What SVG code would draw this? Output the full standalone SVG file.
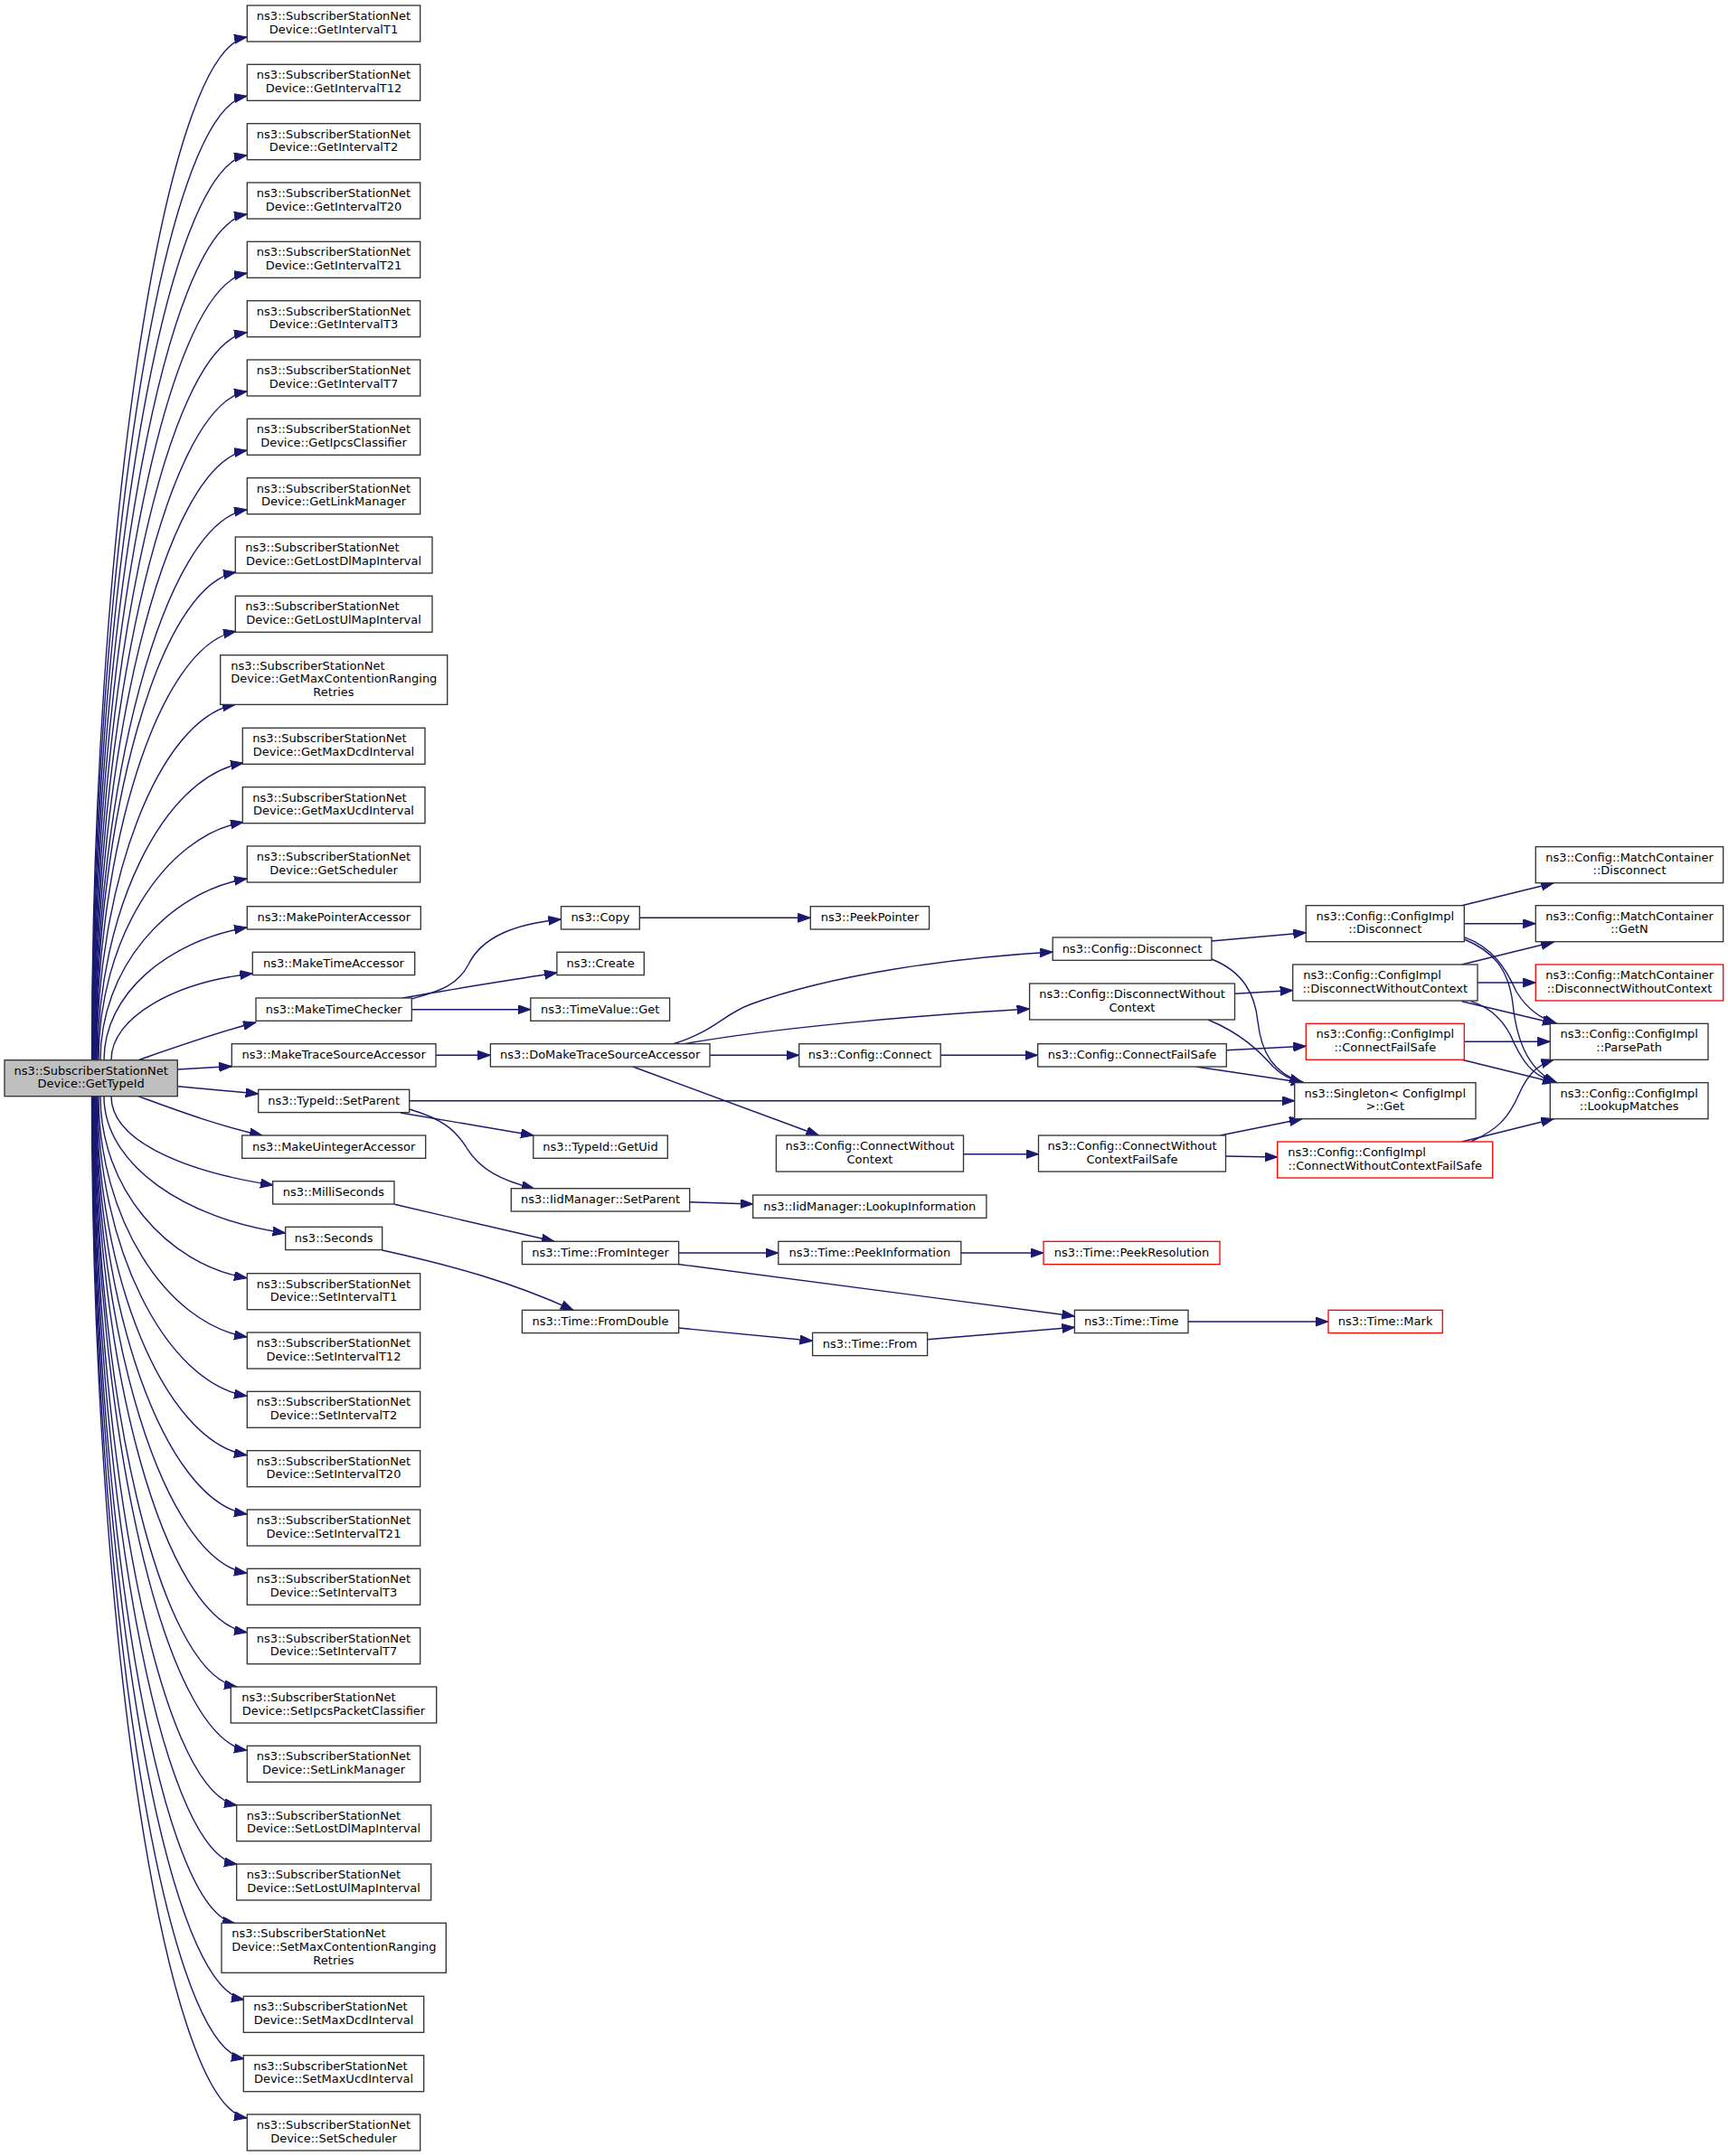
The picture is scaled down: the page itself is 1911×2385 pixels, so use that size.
<svg xmlns="http://www.w3.org/2000/svg" width="1911" height="2385" viewBox="0 0 1911 2385">
<defs>
<style>
.node rect{fill:#fff;stroke:#333;stroke-width:1.33}
.node.main rect{fill:#bfbfbf}
.node.red rect{stroke:#ff0000}
text{font-family:"DejaVu Sans","Liberation Sans",sans-serif;font-size:13px;fill:#000}
.c{text-anchor:middle}
.l{text-anchor:start}
.edges path{fill:none;stroke:#191970;stroke-width:1.4;marker-end:url(#ah)}
</style>
<marker id="ah" markerUnits="userSpaceOnUse" markerWidth="16" markerHeight="12" refX="14" refY="5" orient="auto">
<path d="M0,0L14,5L0,10z" fill="#191970" stroke="#191970" stroke-width="1"/>
</marker>
</defs>
<rect x="0" y="0" width="1911" height="2385" fill="#fff"/>
<g class="edges">
<path d="M101.5,1172.7 C101.5,606.8 178.7,56 273,41"/>
<path d="M102,1172.7 C102,639.5 178.9,121.3 273,106.3"/>
<path d="M102.5,1172.7 C102.5,672.2 179.2,186.7 273,171.7"/>
<path d="M103,1172.7 C103,704.9 179.5,252 273,237"/>
<path d="M103.5,1172.7 C103.5,737.5 179.8,317.3 273,302.3"/>
<path d="M104,1172.7 C104,770.2 180.1,382.7 273,367.7"/>
<path d="M104.5,1172.7 C104.5,802.9 180.3,448 273,433"/>
<path d="M105,1172.7 C105,835.5 180.6,513.3 273,498.3"/>
<path d="M105.5,1172.7 C105.5,868.2 180.9,578.7 273,563.7"/>
<path d="M106,1172.7 C106,902.9 175.8,648 261,633"/>
<path d="M106.5,1172.7 C106.5,935.6 176,713.5 261,698.5"/>
<path d="M107,1172.7 C107,976 175.9,794.4 260,779.4"/>
<path d="M108,1172.7 C108,1008.4 180.5,859 269,844"/>
<path d="M109,1172.7 C109,1041.1 181,924.5 269,909.5"/>
<path d="M111,1172.7 C111,1072.4 183.9,987 273,972"/>
<path d="M115,1172.7 C115,1099.4 186.1,1040.7 273,1026"/>
<path d="M123,1172.7 C123,1124.9 193.3,1086.6 279.3,1077"/>
<path d="M153,1172.7 C195,1158 240,1142 283,1131"/>
<path d="M196.3,1183 L256.3,1179.5"/>
<path d="M196.3,1201.7 L285.7,1210"/>
<path d="M153,1212.7 C195,1228 240,1245 290,1256"/>
<path d="M123,1212.7 C123,1261.9 203.5,1296 302,1311"/>
<path d="M115,1212.7 C115,1288.4 205.3,1349 315.7,1364"/>
<path d="M111,1212.7 C111,1313.2 183.9,1398.7 273,1413.7"/>
<path d="M109,1212.7 C109,1345.9 182.8,1464 273,1479"/>
<path d="M108,1212.7 C108,1378.5 182.3,1529.3 273,1544.3"/>
<path d="M107,1212.7 C107,1411.2 181.7,1594.7 273,1609.7"/>
<path d="M106.5,1212.7 C106.5,1443.9 181.4,1660 273,1675"/>
<path d="M106,1212.7 C106,1476.5 181.2,1725.3 273,1740.3"/>
<path d="M105.5,1212.7 C105.5,1509.2 180.9,1790.7 273,1805.7"/>
<path d="M105,1212.7 C105,1539.4 175.7,1851 262,1866"/>
<path d="M104.5,1212.7 C104.5,1574.5 180.3,1921.3 273,1936.3"/>
<path d="M104,1212.7 C104,1604.9 175.1,1982 262,1997"/>
<path d="M103.5,1212.7 C103.5,1637.5 174.8,2047.3 262,2062.3"/>
<path d="M103,1212.7 C103,1670.2 173.7,2112.7 260,2127.7"/>
<path d="M102.5,1212.7 C102.5,1712.4 177.9,2197 270,2212"/>
<path d="M102,1212.7 C102,1745.1 177.6,2262.5 270,2277.5"/>
<path d="M101.5,1212.7 C101.5,1777.9 178.7,2328 273,2343"/>
<path d="M455.5,1105 C482,1097 505,1092 518,1067 C533,1036 570,1022 620.5,1017"/>
<path d="M445,1104 C500,1094 560,1085 616,1076"/>
<path d="M455.3,1116.7 L586.8,1116.7"/>
<path d="M482,1167.3 L542.4,1167.3"/>
<path d="M744,1155 C790,1141 800,1122 830,1111 C920,1078 1050,1060 1164.2,1053"/>
<path d="M755,1155 C850,1138 1000,1124 1138.6,1116"/>
<path d="M785,1167.3 L883.7,1167.3"/>
<path d="M700,1180 L905.5,1256"/>
<path d="M1040.2,1167.3 L1147.7,1167.3"/>
<path d="M1065.5,1276.7 L1148.5,1276.7"/>
<path d="M1339.9,1041 L1444.3,1031.7"/>
<path d="M1339.9,1061 C1375,1075 1388,1100 1391,1130 C1395,1165 1408,1186 1440,1197.7"/>
<path d="M1365.5,1099.3 L1429.7,1095.5"/>
<path d="M1336,1128 C1372,1143 1392,1162 1408,1180 C1418,1190 1428,1195 1442,1197.7"/>
<path d="M1356.3,1161.7 L1444.3,1157.3"/>
<path d="M1322.6,1180 L1442,1197.7"/>
<path d="M1349.4,1256 L1440,1237.7"/>
<path d="M1355.5,1279 L1412.7,1280"/>
<path d="M452.7,1217.7 L1431.7,1217.7"/>
<path d="M443,1231 L590,1256"/>
<path d="M452.7,1227 C490,1238 503,1250 515,1268 C530,1294 555,1306 591,1315"/>
<path d="M762.6,1329.7 L832.7,1332"/>
<path d="M436.4,1332.3 L613,1373.3"/>
<path d="M422.7,1383 C500,1400 565,1418 634,1449.3"/>
<path d="M750.6,1386 L860.8,1386"/>
<path d="M750,1398.5 L1188.4,1456"/>
<path d="M750.6,1469 L898.6,1483.3"/>
<path d="M1025.6,1481.7 L1188.4,1468.3"/>
<path d="M1314,1462 L1469,1462"/>
<path d="M1062.8,1386 L1154,1386"/>
<path d="M707.3,1015.3 L896.3,1015.3"/>
<path d="M1616.7,1001.7 L1718.3,976.7"/>
<path d="M1619.3,1021.7 L1698.3,1021.7"/>
<path d="M1619.3,1036.7 C1650,1048 1665,1070 1677,1097 C1690,1118 1705,1127 1721.7,1132.3"/>
<path d="M1619.3,1039 C1650,1052 1668,1070 1673,1110 C1677,1150 1690,1185 1721.7,1197.7"/>
<path d="M1616.7,1067 L1718.3,1042"/>
<path d="M1634,1087 L1698.3,1087"/>
<path d="M1616.7,1107.7 L1720,1132.3"/>
<path d="M1626.7,1107.7 C1650,1115 1665,1130 1675,1155 C1688,1182 1700,1192 1721.7,1197.7"/>
<path d="M1619.3,1152.3 L1714.3,1152.3"/>
<path d="M1616.7,1172.3 L1720,1197.7"/>
<path d="M1626.7,1263 C1655,1250 1668,1238 1680,1210 C1690,1188 1700,1178 1718.3,1172.3"/>
<path d="M1616.7,1263 L1718.3,1237.7"/>
</g>
<g id="n0" class="node main"><rect x="5" y="1172.7" width="191.3" height="40"/><text class="c" x="100.7" y="1188.7">ns3::SubscriberStationNet</text><text class="c" x="100.7" y="1203.4">Device::GetTypeId</text></g>
<g id="n1" class="node"><rect x="273.3" y="6" width="191.4" height="40"/><text class="c" x="369" y="22">ns3::SubscriberStationNet</text><text class="c" x="369" y="36.7">Device::GetIntervalT1</text></g>
<g id="n2" class="node"><rect x="273.3" y="71.3" width="191.4" height="40"/><text class="c" x="369" y="87.3">ns3::SubscriberStationNet</text><text class="c" x="369" y="102">Device::GetIntervalT12</text></g>
<g id="n3" class="node"><rect x="273.3" y="136.7" width="191.4" height="40"/><text class="c" x="369" y="152.7">ns3::SubscriberStationNet</text><text class="c" x="369" y="167.4">Device::GetIntervalT2</text></g>
<g id="n4" class="node"><rect x="273.3" y="202" width="191.4" height="40"/><text class="c" x="369" y="218">ns3::SubscriberStationNet</text><text class="c" x="369" y="232.7">Device::GetIntervalT20</text></g>
<g id="n5" class="node"><rect x="273.3" y="267.3" width="191.4" height="40"/><text class="c" x="369" y="283.3">ns3::SubscriberStationNet</text><text class="c" x="369" y="298">Device::GetIntervalT21</text></g>
<g id="n6" class="node"><rect x="273.3" y="332.7" width="191.4" height="40"/><text class="c" x="369" y="348.7">ns3::SubscriberStationNet</text><text class="c" x="369" y="363.4">Device::GetIntervalT3</text></g>
<g id="n7" class="node"><rect x="273.3" y="398" width="191.4" height="40"/><text class="c" x="369" y="414">ns3::SubscriberStationNet</text><text class="c" x="369" y="428.7">Device::GetIntervalT7</text></g>
<g id="n8" class="node"><rect x="273.3" y="463.3" width="191.4" height="40"/><text class="c" x="369" y="479.3">ns3::SubscriberStationNet</text><text class="c" x="369" y="494">Device::GetIpcsClassifier</text></g>
<g id="n9" class="node"><rect x="273.3" y="528.7" width="191.4" height="40"/><text class="c" x="369" y="544.7">ns3::SubscriberStationNet</text><text class="c" x="369" y="559.4">Device::GetLinkManager</text></g>
<g id="n10" class="node"><rect x="260.3" y="594" width="217.7" height="40"/><text class="l" x="271.3" y="610">ns3::SubscriberStationNet</text><text class="c" x="369" y="624.7">Device::GetLostDlMapInterval</text></g>
<g id="n11" class="node"><rect x="260.3" y="659.3" width="217.7" height="40"/><text class="l" x="271.3" y="675.3">ns3::SubscriberStationNet</text><text class="c" x="369" y="690">Device::GetLostUlMapInterval</text></g>
<g id="n12" class="node"><rect x="243.7" y="724.7" width="251" height="54.7"/><text class="l" x="255.3" y="740.7">ns3::SubscriberStationNet</text><text class="l" x="255.3" y="755.4">Device::GetMaxContentionRanging</text><text class="c" x="369" y="770">Retries</text></g>
<g id="n13" class="node"><rect x="268.3" y="805.3" width="201.7" height="40"/><text class="l" x="279.3" y="821.3">ns3::SubscriberStationNet</text><text class="c" x="369" y="836">Device::GetMaxDcdInterval</text></g>
<g id="n14" class="node"><rect x="268.3" y="870.7" width="201.7" height="40"/><text class="l" x="279.3" y="886.7">ns3::SubscriberStationNet</text><text class="c" x="369" y="901.4">Device::GetMaxUcdInterval</text></g>
<g id="n15" class="node"><rect x="273.3" y="936" width="191.4" height="40"/><text class="c" x="369" y="952">ns3::SubscriberStationNet</text><text class="c" x="369" y="966.7">Device::GetScheduler</text></g>
<g id="n16" class="node"><rect x="273.3" y="1002.7" width="192" height="25.3"/><text class="c" x="369.3" y="1019.2">ns3::MakePointerAccessor</text></g>
<g id="n17" class="node"><rect x="279.3" y="1053.3" width="179.4" height="25.3"/><text class="c" x="369" y="1069.8">ns3::MakeTimeAccessor</text></g>
<g id="n18" class="node"><rect x="283" y="1104" width="172.3" height="25.3"/><text class="c" x="369.2" y="1120.5">ns3::MakeTimeChecker</text></g>
<g id="n19" class="node"><rect x="256.3" y="1154.7" width="225.7" height="25.3"/><text class="c" x="369.2" y="1171.2">ns3::MakeTraceSourceAccessor</text></g>
<g id="n20" class="node"><rect x="285.7" y="1205.3" width="167" height="25.3"/><text class="c" x="369.2" y="1221.8">ns3::TypeId::SetParent</text></g>
<g id="n21" class="node"><rect x="267.7" y="1256" width="203" height="25.3"/><text class="c" x="369.2" y="1272.5">ns3::MakeUintegerAccessor</text></g>
<g id="n22" class="node"><rect x="301.7" y="1306.7" width="134.3" height="25.3"/><text class="c" x="368.9" y="1323.2">ns3::MilliSeconds</text></g>
<g id="n23" class="node"><rect x="315.7" y="1357.3" width="107" height="25.3"/><text class="c" x="369.2" y="1373.8">ns3::Seconds</text></g>
<g id="n24" class="node"><rect x="273.3" y="1408.7" width="191.4" height="40"/><text class="c" x="369" y="1424.7">ns3::SubscriberStationNet</text><text class="c" x="369" y="1439.4">Device::SetIntervalT1</text></g>
<g id="n25" class="node"><rect x="273.3" y="1474" width="191.4" height="40"/><text class="c" x="369" y="1490">ns3::SubscriberStationNet</text><text class="c" x="369" y="1504.7">Device::SetIntervalT12</text></g>
<g id="n26" class="node"><rect x="273.3" y="1539.3" width="191.4" height="40"/><text class="c" x="369" y="1555.3">ns3::SubscriberStationNet</text><text class="c" x="369" y="1570">Device::SetIntervalT2</text></g>
<g id="n27" class="node"><rect x="273.3" y="1604.7" width="191.4" height="40"/><text class="c" x="369" y="1620.7">ns3::SubscriberStationNet</text><text class="c" x="369" y="1635.4">Device::SetIntervalT20</text></g>
<g id="n28" class="node"><rect x="273.3" y="1670" width="191.4" height="40"/><text class="c" x="369" y="1686">ns3::SubscriberStationNet</text><text class="c" x="369" y="1700.7">Device::SetIntervalT21</text></g>
<g id="n29" class="node"><rect x="273.3" y="1735.3" width="191.4" height="40"/><text class="c" x="369" y="1751.3">ns3::SubscriberStationNet</text><text class="c" x="369" y="1766">Device::SetIntervalT3</text></g>
<g id="n30" class="node"><rect x="273.3" y="1800.7" width="191.4" height="40"/><text class="c" x="369" y="1816.7">ns3::SubscriberStationNet</text><text class="c" x="369" y="1831.4">Device::SetIntervalT7</text></g>
<g id="n31" class="node"><rect x="255.3" y="1866" width="227.4" height="40"/><text class="l" x="267.3" y="1882">ns3::SubscriberStationNet</text><text class="c" x="369" y="1896.7">Device::SetIpcsPacketClassifier</text></g>
<g id="n32" class="node"><rect x="273.3" y="1931.3" width="191.4" height="40"/><text class="c" x="369" y="1947.3">ns3::SubscriberStationNet</text><text class="c" x="369" y="1962">Device::SetLinkManager</text></g>
<g id="n33" class="node"><rect x="261.7" y="1996.7" width="215" height="40"/><text class="l" x="272.7" y="2012.7">ns3::SubscriberStationNet</text><text class="c" x="369" y="2027.4">Device::SetLostDlMapInterval</text></g>
<g id="n34" class="node"><rect x="261.7" y="2062" width="215" height="40"/><text class="l" x="272.7" y="2078">ns3::SubscriberStationNet</text><text class="c" x="369" y="2092.7">Device::SetLostUlMapInterval</text></g>
<g id="n35" class="node"><rect x="245" y="2127.3" width="248.3" height="55"/><text class="l" x="256.3" y="2143.3">ns3::SubscriberStationNet</text><text class="l" x="256.3" y="2158">Device::SetMaxContentionRanging</text><text class="c" x="369" y="2172.6">Retries</text></g>
<g id="n36" class="node"><rect x="269.3" y="2208.3" width="199.4" height="40"/><text class="l" x="280.3" y="2224.3">ns3::SubscriberStationNet</text><text class="c" x="369" y="2239">Device::SetMaxDcdInterval</text></g>
<g id="n37" class="node"><rect x="269.3" y="2273.7" width="199.4" height="40"/><text class="l" x="280.3" y="2289.7">ns3::SubscriberStationNet</text><text class="c" x="369" y="2304.4">Device::SetMaxUcdInterval</text></g>
<g id="n38" class="node"><rect x="273.3" y="2339" width="191.4" height="40"/><text class="c" x="369" y="2355">ns3::SubscriberStationNet</text><text class="c" x="369" y="2369.7">Device::SetScheduler</text></g>
<g id="n39" class="node"><rect x="620.5" y="1002.7" width="86.8" height="25.3"/><text class="c" x="663.9" y="1019.2">ns3::Copy</text></g>
<g id="n40" class="node"><rect x="615.9" y="1053.3" width="96.4" height="25.3"/><text class="c" x="664.1" y="1069.8">ns3::Create</text></g>
<g id="n41" class="node"><rect x="586.8" y="1104" width="153.8" height="25.3"/><text class="c" x="663.7" y="1120.5">ns3::TimeValue::Get</text></g>
<g id="n42" class="node"><rect x="542.4" y="1154.7" width="242.6" height="25.3"/><text class="c" x="663.7" y="1171.2">ns3::DoMakeTraceSourceAccessor</text></g>
<g id="n43" class="node"><rect x="589.8" y="1256" width="148.5" height="25.3"/><text class="c" x="664" y="1272.5">ns3::TypeId::GetUid</text></g>
<g id="n44" class="node"><rect x="565.3" y="1314.7" width="197.4" height="25.3"/><text class="c" x="664" y="1331.2">ns3::IidManager::SetParent</text></g>
<g id="n45" class="node"><rect x="577.4" y="1373.3" width="173.2" height="25.3"/><text class="c" x="664" y="1389.8">ns3::Time::FromInteger</text></g>
<g id="n46" class="node"><rect x="577.4" y="1449.3" width="173.2" height="25.3"/><text class="c" x="664" y="1465.8">ns3::Time::FromDouble</text></g>
<g id="n47" class="node"><rect x="896.3" y="1002.7" width="131.3" height="25.3"/><text class="c" x="962" y="1019.2">ns3::PeekPointer</text></g>
<g id="n48" class="node"><rect x="883.7" y="1154.7" width="156.5" height="25.3"/><text class="c" x="962" y="1171.2">ns3::Config::Connect</text></g>
<g id="n49" class="node"><rect x="858.4" y="1256" width="207.1" height="40"/><text class="c" x="962" y="1272">ns3::Config::ConnectWithout</text><text class="c" x="962" y="1286.7">Context</text></g>
<g id="n50" class="node"><rect x="832.7" y="1322" width="258.2" height="25.3"/><text class="c" x="961.8" y="1338.5">ns3::IidManager::LookupInformation</text></g>
<g id="n51" class="node"><rect x="860.8" y="1373.3" width="202" height="25.3"/><text class="c" x="961.8" y="1389.8">ns3::Time::PeekInformation</text></g>
<g id="n52" class="node"><rect x="898.6" y="1474.3" width="127" height="25.3"/><text class="c" x="962.1" y="1490.8">ns3::Time::From</text></g>
<g id="n53" class="node"><rect x="1164.2" y="1037" width="175.7" height="25.3"/><text class="c" x="1252" y="1053.5">ns3::Config::Disconnect</text></g>
<g id="n54" class="node"><rect x="1138.6" y="1088" width="226.9" height="40"/><text class="c" x="1252" y="1104">ns3::Config::DisconnectWithout</text><text class="c" x="1252" y="1118.7">Context</text></g>
<g id="n55" class="node"><rect x="1147.7" y="1154.7" width="208.6" height="25.3"/><text class="c" x="1252" y="1171.2">ns3::Config::ConnectFailSafe</text></g>
<g id="n56" class="node"><rect x="1148.5" y="1256" width="207" height="40"/><text class="c" x="1252" y="1272">ns3::Config::ConnectWithout</text><text class="c" x="1252" y="1286.7">ContextFailSafe</text></g>
<g id="n57" class="node red"><rect x="1154" y="1373.3" width="195" height="25.3"/><text class="c" x="1251.5" y="1389.8">ns3::Time::PeekResolution</text></g>
<g id="n58" class="node"><rect x="1188.4" y="1449.3" width="125.6" height="25.3"/><text class="c" x="1251.2" y="1465.8">ns3::Time::Time</text></g>
<g id="n59" class="node"><rect x="1444.3" y="1001.7" width="175" height="40"/><text class="c" x="1531.8" y="1017.7">ns3::Config::ConfigImpl</text><text class="c" x="1531.8" y="1032.4">::Disconnect</text></g>
<g id="n60" class="node"><rect x="1429.7" y="1067" width="204.3" height="40"/><text class="l" x="1441.3" y="1083">ns3::Config::ConfigImpl</text><text class="c" x="1531.8" y="1097.7">::DisconnectWithoutContext</text></g>
<g id="n61" class="node red"><rect x="1444.3" y="1132.3" width="175" height="40"/><text class="c" x="1531.8" y="1148.3">ns3::Config::ConfigImpl</text><text class="c" x="1531.8" y="1163">::ConnectFailSafe</text></g>
<g id="n62" class="node"><rect x="1431.7" y="1197.7" width="200.3" height="40"/><text class="c" x="1531.8" y="1213.7">ns3::Singleton&lt; ConfigImpl</text><text class="c" x="1531.8" y="1228.4">&gt;::Get</text></g>
<g id="n63" class="node red"><rect x="1412.7" y="1263" width="238" height="40"/><text class="l" x="1424.3" y="1279">ns3::Config::ConfigImpl</text><text class="c" x="1531.7" y="1293.7">::ConnectWithoutContextFailSafe</text></g>
<g id="n64" class="node red"><rect x="1469" y="1449.3" width="126.3" height="25.3"/><text class="c" x="1532.1" y="1465.8">ns3::Time::Mark</text></g>
<g id="n65" class="node"><rect x="1698.3" y="936.7" width="207.4" height="40"/><text class="c" x="1802" y="952.7">ns3::Config::MatchContainer</text><text class="c" x="1802" y="967.4">::Disconnect</text></g>
<g id="n66" class="node"><rect x="1698.3" y="1001.7" width="207.4" height="40"/><text class="c" x="1802" y="1017.7">ns3::Config::MatchContainer</text><text class="c" x="1802" y="1032.4">::GetN</text></g>
<g id="n67" class="node red"><rect x="1698.3" y="1067" width="207.4" height="40"/><text class="l" x="1709.3" y="1083">ns3::Config::MatchContainer</text><text class="c" x="1802" y="1097.7">::DisconnectWithoutContext</text></g>
<g id="n68" class="node"><rect x="1714.3" y="1132.3" width="174.7" height="40"/><text class="c" x="1801.7" y="1148.3">ns3::Config::ConfigImpl</text><text class="c" x="1801.7" y="1163">::ParsePath</text></g>
<g id="n69" class="node"><rect x="1714.3" y="1197.7" width="174.7" height="40"/><text class="c" x="1801.7" y="1213.7">ns3::Config::ConfigImpl</text><text class="c" x="1801.7" y="1228.4">::LookupMatches</text></g>
</svg>
